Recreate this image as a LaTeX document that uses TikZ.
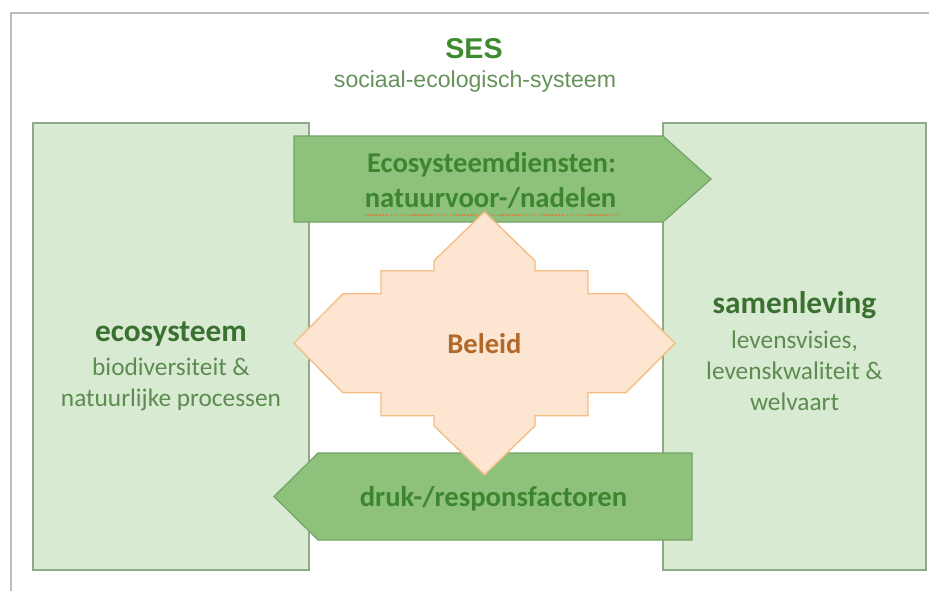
\documentclass[tikz,border=0pt]{standalone}
\usepackage{fontspec}
\setmainfont{Carlito}
\newfontfamily\arialfont{Liberation Sans}
\definecolor{framegray}{HTML}{B7C0B4}
\definecolor{panelfill}{HTML}{D9EAD3}
\definecolor{panelline}{HTML}{8FAA88}
\definecolor{flowfill}{HTML}{8EC17C}
\definecolor{flowline}{HTML}{74A465}
\definecolor{flowtext}{HTML}{3E8530}
\definecolor{policyfill}{HTML}{FCE5D1}
\definecolor{policyline}{HTML}{F4BD83}
\definecolor{policytext}{HTML}{B0692A}
\definecolor{headgreen}{HTML}{3E8A2E}
\definecolor{subgreen}{HTML}{66935A}
\definecolor{titlegreen}{HTML}{3A7030}
\definecolor{bodygreen}{HTML}{5C8C50}
\definecolor{squiggle}{HTML}{C98A45}
\begin{document}
\begin{tikzpicture}[x=0.75pt,y=-0.75pt,
  panel/.style={fill=panelfill,draw=panelline,line width=1.1pt},
  flow/.style={fill=flowfill,draw=flowline,line width=0.9pt,line join=miter},
  policy/.style={fill=policyfill,draw=policyline,line width=1pt,line join=miter},
  txt/.style={anchor=base,inner sep=0pt,align=center},
  flowlabel/.style={txt,text=flowtext,font={\fontsize{21.5}{26}\selectfont\bfseries}},
  paneltitle/.style={txt,text=titlegreen,font={\fontsize{23.5}{28}\selectfont\bfseries}},
  panelbody/.style={txt,text=bodygreen,font={\fontsize{19}{23}\selectfont}},
]
\useasboundingbox (0,0) rectangle (929,590);
\fill[white] (0,0) rectangle (929,590);

% outer frame, running past the right and bottom edges
\begin{scope}
  \clip (0,0) rectangle (929,590);
  \draw[framegray,line width=1.4pt] (11,13) rectangle (960,620);
\end{scope}

% heading
\node[txt,text=headgreen,font={\arialfont\fontsize{21.5}{26}\selectfont\bfseries}] (ses) at (474,58) {SES};
\node[txt,text=subgreen,font={\arialfont\fontsize{17.3}{21}\selectfont}] (sessub) at (475,87) {sociaal-ecologisch-systeem};

% the two systems
\draw[panel] (33,123) rectangle (309,570);
\draw[panel] (663,123) rectangle (926,570);

\node[paneltitle] (ecotitle) at (171,341) {ecosysteem};
\node[panelbody] (ecoline1) at (171,375) {biodiversiteit \&};
\node[panelbody] (ecoline2) at (171,406) {natuurlijke processen};

\node[paneltitle] (soctitle) at (794.5,313) {samenleving};
\node[panelbody] (socline1) at (794.5,348) {levensvisies,};
\node[panelbody] (socline2) at (794.5,379) {levenskwaliteit \&};
\node[panelbody] (socline3) at (794.5,410) {welvaart};

% flows between the systems
\draw[flow] (294,136) -- (663,136) -- (711,179) -- (663,222) -- (294,222) -- cycle;
\draw[flow] (692,453) -- (318,453) -- (274,496.5) -- (318,540) -- (692,540) -- cycle;

\node[flowlabel] (servtop) at (491.5,172) {Ecosysteemdiensten:};
\node[flowlabel] (servbot) at (490.5,207) {natuurvoor-/nadelen};
\draw[squiggle,line width=1.1pt,dash pattern=on 1.1pt off 1.1pt]
  (servbot.base west) ++(0,8) -- ++(255,0);
\node[flowlabel] (press) at (493.5,506) {druk-/responsfactoren};

% policy in the middle
\draw[policy] (484.5,211.8)
  -- ++(-50.5,49) -- ++(0,10) -- ++(-53,0) -- ++(0,23) -- ++(-38,0)
  -- ++(-49,49.5) -- ++(49,49.5) -- ++(38,0) -- ++(0,23) -- ++(53,0)
  -- ++(0,10) -- ++(50.5,49) -- ++(50.5,-49) -- ++(0,-10) -- ++(53,0)
  -- ++(0,-23) -- ++(38,0) -- ++(49,-49.5) -- ++(-49,-49.5) -- ++(-38,0)
  -- ++(0,-23) -- ++(-53,0) -- ++(0,-10) -- cycle;
\node[txt,text=policytext,font={\fontsize{21.4}{26}\selectfont\bfseries}] (policy) at (484.5,353) {Beleid};
\end{tikzpicture}
\end{document}
